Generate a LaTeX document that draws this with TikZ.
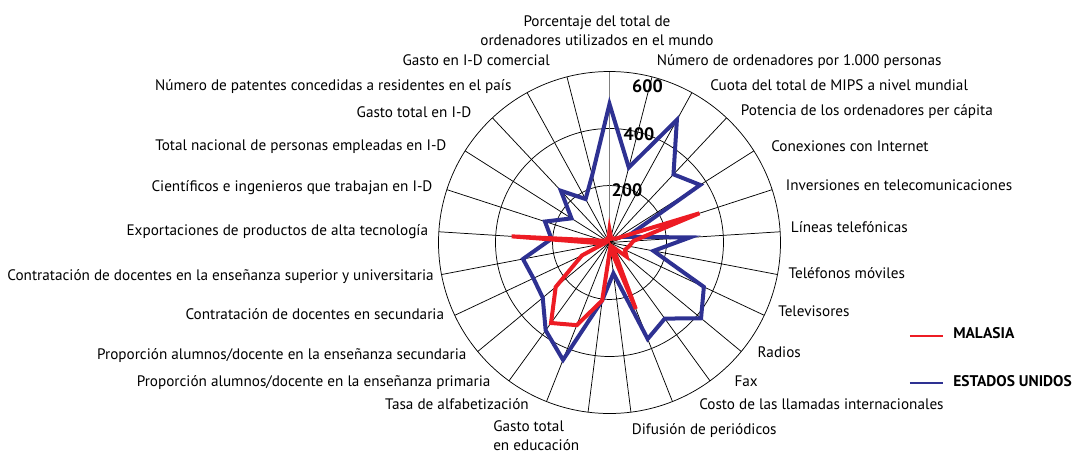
\documentclass[tikz,border=0pt]{standalone}
\usepackage{fontspec}
\setmainfont{PT Sans}
\definecolor{mysred}{RGB}{237,28,36}
\definecolor{usablue}{RGB}{46,49,146}

\begin{document}
\begin{tikzpicture}[x=0.75pt, y=0.75pt,
    spoke/.style={black, line width=0.55pt},
    ring/.style={black, line width=0.55pt},
    usa/.style={usablue, line width=3pt, line join=miter},
    mys/.style={mysred, line width=3pt, line join=miter},
    lbl/.style={inner sep=0pt, font=\fontsize{11.4}{14}\selectfont},
    tick/.style={inner sep=0pt, font=\fontsize{13.5}{15}\selectfont\bfseries},
    key/.style={inner sep=0pt, font=\fontsize{11.6}{14}\selectfont\bfseries}]
    \useasboundingbox (-609.5, -212.5) rectangle (466.5, 242.5);
    \coordinate (o) at (0, 0);
    \begin{scope}[scale=0.285]
    \draw[ring] (o) circle (200);
    \draw[ring] (o) circle (400);
    \draw[ring] (o) circle (600);
    \draw[spoke] (o) -- (75.6:600);
    \draw[spoke] (o) -- (61.2:600);
    \draw[spoke] (o) -- (46.8:600);
    \draw[spoke] (o) -- (32.4:600);
    \draw[spoke] (o) -- (18:600);
    \draw[spoke] (o) -- (3.6:600);
    \draw[spoke] (o) -- (-10.8:600);
    \draw[spoke] (o) -- (-25.2:600);
    \draw[spoke] (o) -- (-39.6:600);
    \draw[spoke] (o) -- (-54:600);
    \draw[spoke] (o) -- (-68.4:600);
    \draw[spoke] (o) -- (-82.8:600);
    \draw[spoke] (o) -- (-97.2:600);
    \draw[spoke] (o) -- (-111.6:600);
    \draw[spoke] (o) -- (-126:600);
    \draw[spoke] (o) -- (-140.4:600);
    \draw[spoke] (o) -- (-154.8:600);
    \draw[spoke] (o) -- (-169.2:600);
    \draw[spoke] (o) -- (176.4:600);
    \draw[spoke] (o) -- (162:600);
    \draw[spoke] (o) -- (147.6:600);
    \draw[spoke] (o) -- (133.2:600);
    \draw[spoke] (o) -- (118.8:600);
    \draw[spoke] (o) -- (104.4:600);
    \draw[gray, line width=0.9pt] (o) -- (90:600);
    \draw[usa] (90:486) -- (75.6:272) -- (61.2:491) -- (46.8:328) -- (32.4:377)
      -- (18:64) -- (3.6:283) -- (-10.8:157) -- (-25.2:366) -- (-39.6:417)
      -- (-54:330) -- (-68.4:364) -- (-82.8:109) -- (-97.2:205) -- (-111.6:443)
      -- (-126:381) -- (-140.4:304) -- (-154.8:295) -- (-169.2:309) -- (176.4:204)
      -- (162:238) -- (147.6:158) -- (133.2:249) -- (118.8:174) -- (104.4:244) -- cycle;
    \draw[mys] (90:45) -- (75.6:20) -- (61.2:15) -- (46.8:20) -- (32.4:25)
      -- (18:332) -- (3.6:84) -- (-10.8:70) -- (-25.2:60) -- (-39.6:78)
      -- (-54:20) -- (-68.4:251) -- (-82.8:20) -- (-97.2:205) -- (-111.6:312)
      -- (-126:349) -- (-140.4:245) -- (-154.8:107) -- (-169.2:20) -- (176.4:344)
      -- (162:20) -- (147.6:15) -- (133.2:15) -- (118.8:10) -- (104.4:15) -- cycle;
    \end{scope}
    \node[tick] (t200) at (17.5, 52.2) {200};
    \node[tick] (t400) at (29.5, 108.5) {400};
    \node[tick] (t600) at (38, 156.2) {600};
    \node[lbl, align=center] (pct) at (-12.5, 211.5) {Porcentaje del total de\\ordenadores utilizados en el mundo};
    \node[lbl, anchor=mid west] (ord) at (47.2, 180.8) {Número de ordenadores por 1.000 personas};
    \node[lbl, anchor=mid west] (mips) at (100.5, 155.2) {Cuota del total de MIPS a nivel mundial};
    \node[lbl, anchor=mid west] (pot) at (131.2, 130.2) {Potencia de los ordenadores per cápita};
    \node[lbl, anchor=mid west] (net) at (161.5, 94.8) {Conexiones con Internet};
    \node[lbl, anchor=mid west] (inv) at (176.2, 55.2) {Inversiones en telecomunicaciones};
    \node[lbl, anchor=mid west] (tel) at (181.2, 13) {Líneas telefónicas};
    \node[lbl, anchor=mid west] (mov) at (178.8, -32.5) {Teléfonos móviles};
    \node[lbl, anchor=mid west] (tv) at (168.5, -70.8) {Televisores};
    \node[lbl, anchor=mid west] (rad) at (147.8, -111.5) {Radios};
    \node[lbl, anchor=mid west] (fax) at (124.8, -140.2) {Fax};
    \node[lbl, anchor=mid west] (cost) at (89.5, -163.2) {Costo de las llamadas internacionales};
    \node[lbl, anchor=mid west] (per) at (22.2, -188.2) {Difusión de periódicos};
    \node[lbl, anchor=west, align=left] (edu) at (-116.5, -193.5) {Gasto total\\en educación};
    \node[lbl, anchor=mid east] (alf) at (-80.5, -163.2) {Tasa de alfabetización};
    \node[lbl, anchor=mid east] (prim) at (-118.8, -140.2) {Proporción alumnos/docente en la enseñanza primaria};
    \node[lbl, anchor=mid east] (sec) at (-142.8, -113.5) {Proporción alumnos/docente en la enseñanza secundaria};
    \node[lbl, anchor=mid east] (dsec) at (-165.2, -73.5) {Contratación de docentes en secundaria};
    \node[lbl, anchor=mid east] (dsup) at (-175.5, -34.2) {Contratación de docentes en la enseñanza superior y universitaria};
    \node[lbl, anchor=mid east] (exp) at (-181.2, 10.8) {Exportaciones de productos de alta tecnología};
    \node[lbl, anchor=mid east] (cie) at (-176.8, 54.2) {Científicos e ingenieros que trabajan en I-D};
    \node[lbl, anchor=mid east] (emp) at (-162.8, 95.8) {Total nacional de personas empleadas en I-D};
    \node[lbl, anchor=mid east] (gid) at (-137.8, 128.2) {Gasto total en I-D};
    \node[lbl, anchor=mid east] (pat) at (-97.8, 155.8) {Número de patentes concedidas a residentes en el país};
    \node[lbl, anchor=mid east] (com) at (-59.5, 180.8) {Gasto en I-D comercial};
    \node[key, anchor=mid west] (mal) at (343.5, -92.5) {MALASIA};
    \node[key, anchor=mid west] (eeuu) at (343.5, -140.5) {ESTADOS UNIDOS};
    \coordinate (mal0) at (300.5, -93.5);
    \coordinate (eeuu0) at (300.5, -140.5);
    \draw[mysred, line width=1.5pt] (mal0) -- +(33, 0);
    \draw[usablue, line width=1.5pt] (eeuu0) -- +(33, 0);
  \end{tikzpicture}
\end{document}
